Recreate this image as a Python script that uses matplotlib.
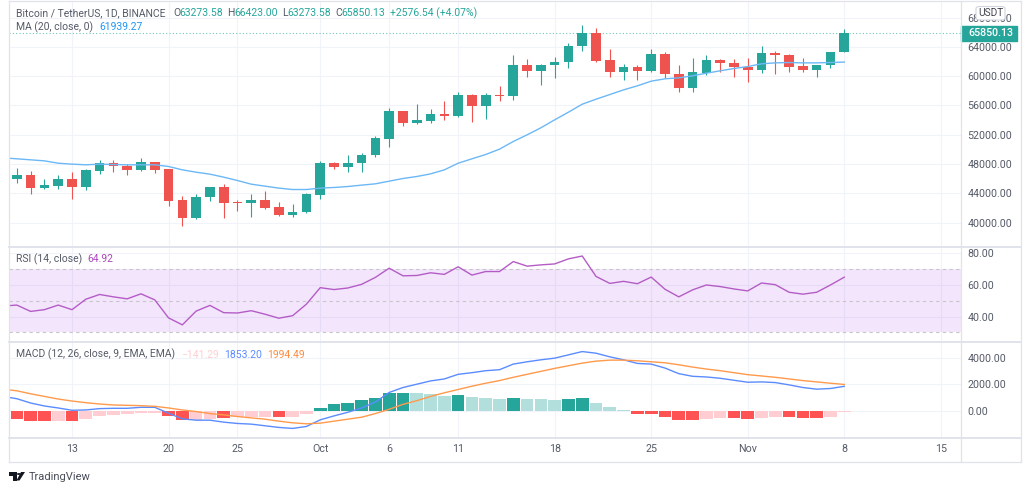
import numpy as np
import matplotlib
matplotlib.use("Agg")
import matplotlib.pyplot as plt
from matplotlib.patches import Rectangle, FancyBboxPatch, Polygon, Circle

plt.rcParams['font.family'] = ['Roboto', 'DejaVu Sans']

# candles, Sep 9 to Nov 8 (day 0 is Sep 13)
opens = [45970, 46430, 44695, 45060, 45970, 44830, 47020, 48110, 47750, 47200, 48300, 47250, 43010, 40590, 43460, 44920,
         42830, 42600, 43100, 42100, 40960, 41410, 43780, 48070, 47570, 48160, 49200, 51440, 55270, 53630, 53900, 54900,
         54540, 57500, 55910, 57460, 57320, 61600, 60740, 61470, 61920, 64160, 65980, 62200, 60600, 61290, 60690, 63060,
         60330, 58370, 60470, 62240, 61880, 61330, 60880, 63150, 62930, 61380, 60880, 61470, 63273.58]
highs = [47430, 47020, 45970, 46430, 46930, 47340, 48480, 48610, 48020, 48800, 48300, 47340, 43600, 43920, 44880, 45200,
         43010, 43920, 44280, 42780, 42550, 44010, 48430, 48300, 49250, 49480, 51800, 55680, 55270, 56140, 55540, 56550,
         57870, 57590, 57730, 58600, 62930, 62330, 61700, 62700, 64480, 66940, 66570, 63750, 61740, 61560, 63750, 63290,
         61560, 62470, 62930, 62380, 62380, 62470, 64200, 63520, 63020, 62560, 61510, 63290, 66423]
lows = [45380, 43965, 44600, 44560, 43280, 44470, 46650, 46880, 46560, 47020, 46750, 42320, 39500, 40460, 42920, 40550,
        41550, 40730, 41870, 40870, 40730, 41320, 43190, 47340, 46970, 46840, 48930, 50260, 53260, 53490, 53580, 53950,
        54450, 53770, 54130, 56680, 56730, 59960, 58820, 59740, 61190, 63430, 61920, 59870, 59420, 59420, 60600, 59740,
        57870, 57780, 60150, 60600, 59870, 59280, 60470, 60240, 60560, 60560, 59830, 61190, 63273.58]
closes = [46430, 44695, 45150, 45970, 44830, 47200, 48110, 47660, 47200, 48300, 47200, 42960, 40640, 43460, 44880, 42730,
          42600, 43100, 42000, 40960, 41460, 43830, 48070, 47570, 48200, 49250, 51490, 55270, 53670, 53950, 54900, 54590,
          57500, 55910, 57370, 57320, 61600, 60740, 61510, 61970, 64200, 65980, 62110, 60600, 61290, 60740, 63060, 60240,
          58370, 60600, 62240, 61790, 61200, 60830, 63150, 62880, 61330, 60880, 61510, 63290, 65850.13]

# indicators start one day earlier, Sep 8
ma = [48840, 48710, 48570, 48430, 48110, 47980, 47890, 47980, 47930, 47890, 47890, 47890, 47660, 47200, 46880, 46610,
      46200, 45740, 45240, 44970, 44700, 44510, 44510, 44700, 44790, 44920, 45110, 45290, 45650, 46020, 46290, 46650,
      47200, 48110, 48710, 49300, 50030, 51080, 51990, 52950, 54040, 55090, 56180, 56860, 57500, 58140, 58690, 59330,
      59650, 59780, 60060, 60420, 60740, 61060, 61330, 61700, 61830, 61880, 61830, 61830, 61880, 61939.27]
rsi = [46.7, 47.3, 43.3, 44.4, 47.3, 44.4, 51.0, 54.0, 52.5, 51.25, 54.4, 50.6, 39.2, 34.8, 43.5, 47.1, 42.5, 42.3,
       43.75, 41.5, 39.0, 40.6, 47.9, 58.3, 57.1, 58.1, 60.4, 64.8, 70.6, 65.8, 66.0, 67.7, 66.7, 71.5, 66.25, 68.5,
       68.5, 74.8, 71.9, 72.7, 73.3, 76.5, 78.3, 65.4, 61.0, 62.3, 60.8, 65.0, 57.3, 52.5, 56.9, 60.0, 59.0, 57.5,
       56.25, 61.25, 60.2, 55.4, 54.2, 55.4, 60.0, 64.92]
macd = [1082, 906, 579, 352, 201, 25, 50, 151, 176, 176, 252, 252, -201, -629, -730, -730, -881, -981, -1032, -1157,
        -1283, -1359, -1208, -704, -403, -126, 201, 654, 1384, 1761, 2013, 2264, 2415, 2768, 2893, 3044, 3120, 3548,
        3724, 3875, 4000, 4252, 4504, 4378, 4101, 3875, 3598, 3548, 3246, 2818, 2617, 2566, 2466, 2315, 2164, 2189,
        2139, 1962, 1761, 1635, 1686, 1853.2]
signal = [1635, 1510, 1283, 1082, 881, 730, 604, 503, 428, 403, 377, 327, 201, 50, -75, -226, -327, -453, -554, -654,
          -805, -931, -1006, -956, -805, -654, -503, -226, 101, 478, 755, 1082, 1359, 1610, 1862, 2088, 2290, 2541,
          2768, 2994, 3220, 3422, 3623, 3774, 3849, 3849, 3799, 3724, 3648, 3497, 3321, 3170, 3044, 2893, 2742, 2642,
          2541, 2415, 2290, 2189, 2088, 1994.49]
hist = [-428, -629, -830, -830, -830, -830, -629, -428, -302, -226, -176, -176, -428, -679, -679, -604, -554, -503,
        -503, -503, -503, -503, -252, 201, 478, 604, 805, 981, 1308, 1308, 1308, 1233, 1107, 1183, 1057, 981, 855, 981,
        906, 906, 780, 855, 931, 604, 277, 25, -252, -252, -453, -704, -704, -654, -579, -579, -654, -528, -453, -503,
        -579, -579, -453, -141.29]
# 1 = strong colour, 0 = pale colour
hist_strong = [0, 1, 1, 1, 0, 1, 0, 0, 0, 0, 0, 0, 1, 1, 0, 0, 1, 0, 0, 0, 1, 0, 0, 1, 1, 1, 1, 1, 1, 1, 0, 0, 0, 1, 0,
               0, 0, 1, 0, 0, 0, 1, 1, 0, 0, 0, 1, 1, 1, 1, 1, 0, 0, 1, 1, 0, 0, 1, 1, 1, 0, 0]

tick_days = [0, 7, 12, 18, 23, 28, 35, 42, 49, 56, 63]
tick_labels = ['13', '20', '25', 'Oct', '6', '11', '18', '25', 'Nov', '8', '15']
price_ticks = [40000, 44000, 48000, 52000, 56000, 60000, 64000, 68000]
rsi_ticks = [40, 60, 80]
macd_ticks = [0, 2000, 4000]

W, H = 1024, 491
GREEN, RED = '#26a69a', '#ef5350'
GRID, EDGE, TEXT = '#f0f3fa', '#e0e3eb', '#555a66'
LEFT, RIGHT = 9, 960.5
FS = 7.5
TICK_FS = 7.7


def add_pane(top, bottom, ylim):
    ax = fig.add_axes([LEFT / W, 1 - bottom / H, (RIGHT - LEFT) / W, (bottom - top) / H])
    ax.set_xlim(-4.57, 64.43)
    ax.set_ylim(*ylim)
    ax.set_xticks(tick_days)
    ax.tick_params(length=0, labelbottom=False, labelleft=False, labelright=True, right=False, left=False,
                   labelsize=TICK_FS, labelcolor=TEXT, pad=5)
    ax.yaxis.tick_right()
    ax.grid(color=GRID, lw=0.8)
    ax.set_axisbelow(True)
    for s in ax.spines.values():
        s.set_visible(False)
    return ax


def put(x, y, s, color=TEXT, size=FS):
    fig.text(x / W, 1 - y / H, s, color=color, fontsize=size, va='center', ha='left')


fig = plt.figure(figsize=(W / 100, H / 100), dpi=100)

days = np.arange(-4, -4 + len(closes))
ind_days = np.arange(-5, -5 + len(ma))

# price pane
ax = add_pane(1, 246, (36787, 70290))
opens, highs, lows, closes = map(np.array, (opens, highs, lows, closes))
colors = [GREEN if c >= o else RED for o, c in zip(opens, closes)]
ax.vlines(days, lows, highs, colors=colors, lw=0.8, zorder=2)
ax.bar(days, closes - opens, bottom=opens, width=0.7, color=colors, zorder=3)
ax.plot(ind_days, ma, color='#6cb8f6', lw=1.0, zorder=4)
ax.axhline(closes[-1], color='#6fc4bc', lw=0.8, ls=(0, (1, 2)), zorder=1)
ax.set_yticks(price_ticks)
ax.set_yticklabels([f'{v:.2f}' for v in price_ticks])

# last price tag on the scale
tag_w = 56 / (RIGHT - LEFT)
ax.add_patch(Rectangle((1, closes[-1] - 1030), tag_w, 2060, transform=ax.get_yaxis_transform(), color=GREEN,
                       clip_on=False, zorder=6))
ax.text(1 + 8 / (RIGHT - LEFT), closes[-1], f'{closes[-1]:.2f}', transform=ax.get_yaxis_transform(), color='white',
        fontsize=TICK_FS, va='center', ha='left', zorder=7, fontweight='medium')

# RSI pane
ax2 = add_pane(247, 341, (24.6, 84))
ax2.axhspan(30, 70, color='#921ce4', alpha=0.11, lw=0, zorder=1)
for level in (30, 50, 70):
    ax2.axhline(level, color='#c8c4cc', lw=0.8, ls=(0, (3, 3)), zorder=2)
ax2.plot(ind_days, rsi, color='#b45cc6', lw=1.0, zorder=3)
ax2.set_yticks(rsi_ticks)
ax2.set_yticklabels([f'{v:.2f}' for v in rsi_ticks])

# MACD pane
ax3 = add_pane(342, 437, (-2013, 5233))
bar_colors = []
for h, strong in zip(hist, hist_strong):
    if h >= 0:
        bar_colors.append(GREEN if strong else '#b2dfdb')
    else:
        bar_colors.append('#ff5252' if strong else '#ffcdd2')
ax3.bar(ind_days, hist, width=0.92, color=bar_colors, zorder=2)
ax3.plot(ind_days, macd, color='#5b8cff', lw=1.0, zorder=3)
ax3.plot(ind_days, signal, color='#ff9a4d', lw=1.0, zorder=4)
ax3.set_yticks(macd_ticks)
ax3.set_yticklabels([f'{v:.2f}' for v in macd_ticks])

# time scale
ax4 = fig.add_axes([LEFT / W, 1 - 462 / H, (RIGHT - LEFT) / W, 24 / H])
ax4.set_xlim(-4.57, 64.43)
ax4.set_yticks([])
ax4.set_xticks(tick_days)
ax4.set_xticklabels(tick_labels)
ax4.tick_params(axis='x', length=0, direction='in', pad=-13, labelsize=TICK_FS, labelcolor=TEXT)
for s in ax4.spines.values():
    s.set_visible(False)

# frame and pane separators
for x0, y0, x1, y1 in [(9, 1, 9, 462), (1020.5, 1, 1020.5, 462), (9, 1, 1020.5, 1), (9, 462, 1020.5, 462),
                       (960.5, 1, 960.5, 462), (9, 246.5, 1020.5, 246.5), (9, 341.5, 1020.5, 341.5),
                       (9, 437.5, 1020.5, 437.5)]:
    lw = 1.4 if y0 == y1 and y0 in (246.5, 341.5, 437.5) else 0.9
    fig.add_artist(plt.Line2D([x0 / W, x1 / W], [1 - y0 / H, 1 - y1 / H], color=EDGE, lw=lw, zorder=5))

# USDT button over the top price label
fig.add_artist(FancyBboxPatch((976 / W, 1 - 20 / H), 29 / W, 13.5 / H, boxstyle='round,pad=0,rounding_size=0.004',
                              fc='white', ec='#d1d4dc', lw=0.8, zorder=8))
fig.text(990.5 / W, 1 - 13.5 / H, 'USDT', color='#131722', alpha=0.8, fontsize=FS - 0.2, ha='center', va='center',
         zorder=9)

# legends
put(15.5, 13, 'Bitcoin / TetherUS, 1D, BINANCE')
for x, s in [(173, 'O'), (227.5, 'H'), (282, 'L'), (335.5, 'C')]:
    put(x, 13, s)
for x, s in [(179.5, '63273.58'), (234.5, '66423.00'), (287.5, '63273.58'), (341.5, '65850.13'),
             (389.5, '+2576.54 (+4.07%)')]:
    put(x, 13, s, color=GREEN)
put(15.5, 27.5, 'MA (20, close, 0)')
put(99.5, 27.5, '61939.27', color='#2196f3')
put(15.5, 259, 'RSI (14, close)')
put(87.5, 259, '64.92', color='#ab47bc')
put(15.5, 354.5, 'MACD (12, 26, close, 9, EMA, EMA)')
put(181.5, 354.5, '\u2212141.29', color='#ffcdd2')
put(224.5, 354.5, '1853.20', color='#5b8cff')
put(267, 354.5, '1994.49', color='#ff8a3d')

# TradingView mark
for pts in [[(8.5, 472), (17, 472), (17, 480.5), (13, 480.5), (13, 476), (8.5, 476)],
            [(19.5, 480.5), (16.5, 480.5), (21, 472), (25, 472)]]:
    fig.add_artist(Polygon([(x / W, 1 - y / H) for x, y in pts], closed=True, fc='#131722', ec='none'))
fig.add_artist(Circle((18.8 / W, 1 - 474 / H), 0.0019, fc='#131722', ec='none'))
put(29, 477, 'TradingView', color='#4a4e5a', size=8.0)

fig.savefig('out.png', dpi=100)
